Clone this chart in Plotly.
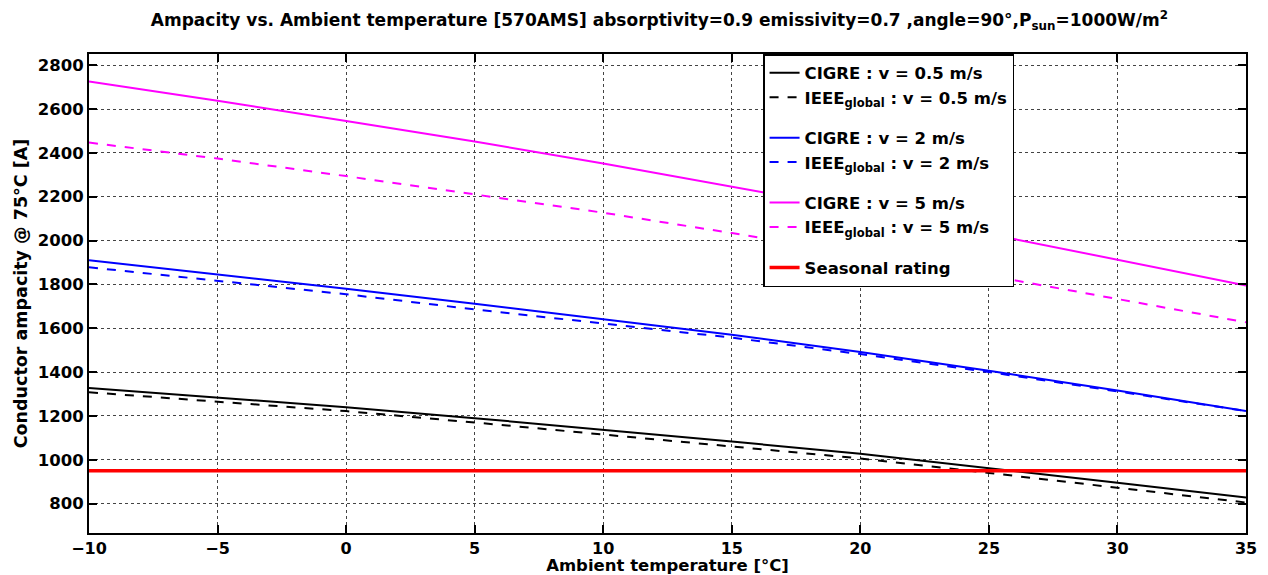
import plotly.graph_objects as go

# ambient temperature [degC]
temp = [-10, -5, 0, 5, 10, 15, 20, 25, 30, 35]

# ampacity [A]
cigre_05 = [1327, 1285, 1240, 1190, 1138, 1083, 1028, 963, 895, 828]
ieee_05 = [1308, 1264, 1222, 1170, 1116, 1060, 1006, 940, 874, 805]
cigre_2 = [1910, 1846, 1780, 1712, 1642, 1570, 1492, 1406, 1316, 1222]
ieee_2 = [1878, 1815, 1755, 1686, 1622, 1557, 1482, 1400, 1312, 1222]
cigre_5 = [2726, 2638, 2545, 2452, 2351, 2246, 2140, 2030, 1914, 1795]
ieee_5 = [2447, 2374, 2294, 2209, 2127, 2034, 1940, 1840, 1733, 1627]
seasonal = [950] * len(temp)

names = ["CIGRE : v = 0.5 m/s", "IEEE<sub>global</sub> : v = 0.5 m/s",
         "CIGRE : v = 2 m/s", "IEEE<sub>global</sub> : v = 2 m/s",
         "CIGRE : v = 5 m/s", "IEEE<sub>global</sub> : v = 5 m/s",
         "Seasonal rating"]

font = "DejaVu Sans, sans-serif"

fig = go.Figure()

series = [
    (cigre_05, names[0], "black", "solid", "g1", 2),
    (ieee_05, names[1], "black", "dash", "g1", 2),
    (cigre_2, names[2], "#0000ff", "solid", "g2", 2),
    (ieee_2, names[3], "#0000ff", "dash", "g2", 2),
    (cigre_5, names[4], "#ff00ff", "solid", "g3", 2),
    (ieee_5, names[5], "#ff00ff", "dash", "g3", 2),
    (seasonal, names[6], "#ff0000", "solid", "g4", 3.5),
]
for ys, nm, col, dash, grp, w in series:
    fig.add_trace(go.Scatter(x=temp, y=ys, name=nm, mode="lines",
                             legendgroup=grp,
                             line=dict(color=col, dash=dash, width=w)))

# the page adds an 8px body margin, so the figure is a bit smaller than the window
fig.update_layout(
    width=1260, height=567,
    margin=dict(l=81, r=22, t=46, b=42),
    paper_bgcolor="white", plot_bgcolor="white",
    font=dict(family=font, color="black", size=16),
    title=dict(text="<b>Ampacity vs. Ambient temperature [570AMS] absorptivity=0.9 emissivity=0.7 ,angle=90°,P<sub>sun</sub>=1000W/m<sup>2</sup></b>",
               x=0.517, xanchor="center", y=0.978, yanchor="middle",
               font=dict(size=17, family=font)),
    legend=dict(x=0.5826, y=1, xanchor="left", yanchor="top",
                bgcolor="white", bordercolor="black", borderwidth=1.5,
                font=dict(size=16.5, family=font, weight="bold"),
                traceorder="grouped", tracegroupgap=16),
)

axis_common = dict(showline=True, linecolor="black", linewidth=2, mirror="ticks",
                   ticks="inside", ticklen=8, tickcolor="black", tickwidth=1.5,
                   showgrid=True, gridcolor="#444", griddash="dot", gridwidth=1,
                   zeroline=False, automargin=False)

fig.update_xaxes(range=[-10, 35], dtick=5, tickformat="d",
                 tickfont=dict(size=16, family=font, weight="bold"),
                 title=dict(text="<b>Ambient temperature [°C]</b>", standoff=5,
                            font=dict(size=16.5)),
                 **axis_common)
fig.update_yaxes(range=[666, 2851], dtick=200,
                 tickfont=dict(size=16.5, family=font, weight="bold"),
                 title=dict(text="<b>Conductor ampacity @ 75°C [A]</b>", standoff=6,
                            font=dict(size=17.5)),
                 **axis_common)

fig.write_html("out.html")
